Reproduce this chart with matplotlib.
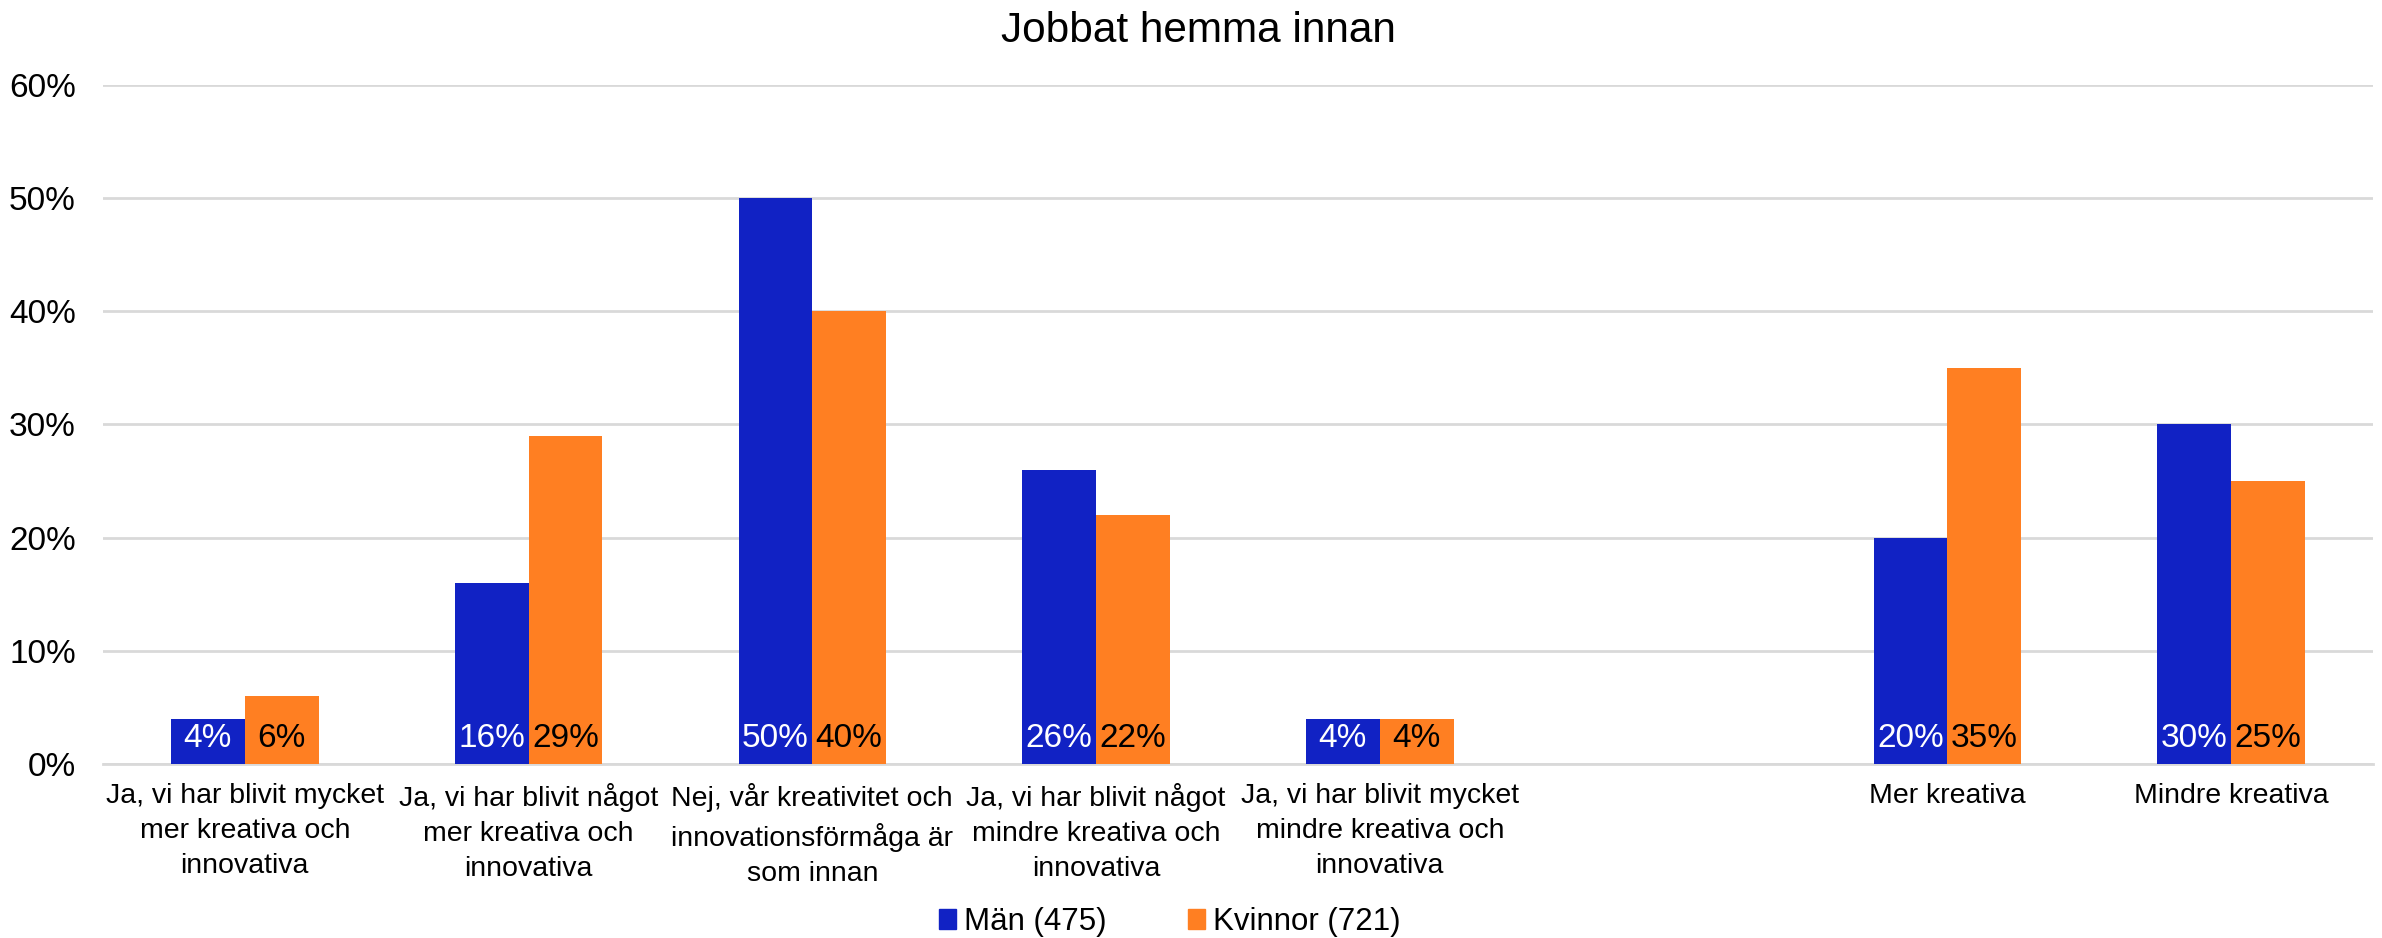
import numpy as np
import matplotlib.pyplot as plt
from matplotlib.patches import Patch
from matplotlib.ticker import PercentFormatter

plt.rcParams['font.family'] = ['Liberation Sans', 'DejaVu Sans']

# Data (share of respondents)
categories = [
    'Ja, vi har blivit mycket\nmer kreativa och\ninnovativa',
    'Ja, vi har blivit något\nmer kreativa och\ninnovativa',
    'Nej, vår kreativitet och\ninnovationsförmåga är\nsom innan',
    'Ja, vi har blivit något\nmindre kreativa och\ninnovativa',
    'Ja, vi har blivit mycket\nmindre kreativa och\ninnovativa',
    '',
    'Mer kreativa',
    'Mindre kreativa',
]
man = [0.04, 0.16, 0.50, 0.26, 0.04, np.nan, 0.20, 0.30]
kvinnor = [0.06, 0.29, 0.40, 0.22, 0.04, np.nan, 0.35, 0.25]
series_names = ['Män (475)', 'Kvinnor (721)']

BLUE = '#1122C4'
ORANGE = '#FF7F22'
GRID = '#D9D9D9'

fig = plt.figure(figsize=(23.82, 9.38), dpi=100)
ax = fig.add_axes([0.0432, 0.1855, 0.953, 0.724])

x = np.arange(len(categories))
w = 0.26
ax.bar(x - w / 2, man, w, color=BLUE, zorder=3)
ax.bar(x + w / 2, kvinnor, w, color=ORANGE, zorder=3)

# value labels sit at the base of each bar
for xi, m, k in zip(x, man, kvinnor):
    if not np.isnan(m):
        ax.text(xi - w / 2, 0.015, f'{m * 100:.0f}%', ha='center', va='baseline',
                fontsize=24, color='white', zorder=4)
    if not np.isnan(k):
        ax.text(xi + w / 2, 0.015, f'{k * 100:.0f}%', ha='center', va='baseline',
                fontsize=24, color='black', zorder=4)

ax.set_xlim(-0.5, len(categories) - 0.5)
ax.set_ylim(0, 0.6)
ax.set_yticks(np.arange(0, 0.61, 0.1))
ax.yaxis.set_major_formatter(PercentFormatter(1.0, decimals=0))
ax.set_xticks(x)
ax.set_xticklabels(categories, fontsize=20.5, linespacing=1.45)
ax.tick_params(axis='x', length=0, pad=14)
ax.tick_params(axis='y', length=0, pad=19.5, labelsize=24)

ax.grid(axis='y', color=GRID, linewidth=2, zorder=0)
for s in ['top', 'right', 'left']:
    ax.spines[s].set_visible(False)
ax.spines['bottom'].set_color(GRID)
ax.spines['bottom'].set_linewidth(2)

fig.text(0.503, 0.955, 'Jobbat hemma innan', ha='center', va='baseline', fontsize=30.5)

handles = [Patch(color=BLUE), Patch(color=ORANGE)]
fig.legend(handles, series_names, loc='center', bbox_to_anchor=(0.491, 0.017),
           ncol=2, frameon=False, fontsize=22.5, handlelength=0.55, handleheight=0.6,
           handletextpad=0.25, columnspacing=2.6)

fig.savefig('out.png', dpi=100)
